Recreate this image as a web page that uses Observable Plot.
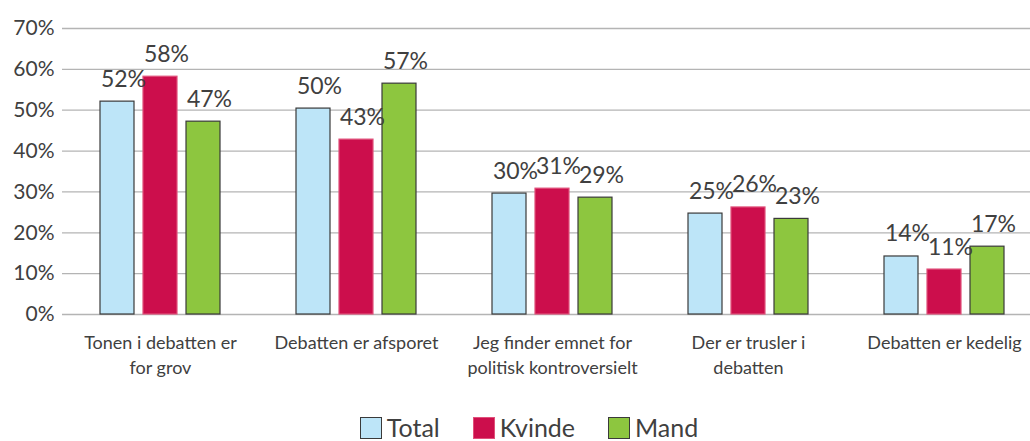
<!DOCTYPE html>
<html>
<head>
<meta charset="utf-8">
<script src="https://cdn.jsdelivr.net/npm/d3@7"></script>
<script src="https://cdn.jsdelivr.net/npm/@observablehq/plot@0.6"></script>
<style>
  body { margin: 0; background: #fff; font-family: Lato, "Open Sans", sans-serif; overflow: hidden; }
  #chart svg { display: block; }
  .legend { display: flex; justify-content: center; align-items: flex-start; padding-left: 28px; margin-top: 15px; font-weight: 400; font-size: 25px; line-height: 25px; color: #404040; }
  .legend .item { display: flex; align-items: flex-start; margin-right: 33px; }
  .legend .item:last-child { margin-right: 0; }
  .legend .sw { width: 22px; height: 22px; box-sizing: border-box; margin-right: 5px; margin-top: 2px; }
</style>
</head>
<body>
<div id="chart"></div>
<div class="legend" id="legend"></div>
<script>
const categories = [
  "Tonen i debatten er for grov",
  "Debatten er afsporet",
  "Jeg finder emnet for politisk kontroversielt",
  "Der er trusler i debatten",
  "Debatten er kedelig"
];
const categoryLabels = [
  "Tonen i debatten er\nfor grov",
  "Debatten er afsporet",
  "Jeg finder emnet for\npolitisk kontroversielt",
  "Der er trusler i\ndebatten",
  "Debatten er kedelig"
];
const series = ["Total", "Kvinde", "Mand"];
const totalValues  = [52.1, 50.4, 29.6, 24.7, 14.2];
const kvindeValues = [58.2, 42.8, 30.8, 26.2, 11.0];
const mandValues   = [47.2, 56.5, 28.6, 23.4, 16.6];
const yTicks = [0, 10, 20, 30, 40, 50, 60, 70];

const colors = ["#bde5f8", "#cc0e4c", "#8dc63f"];
const strokes = ["#3a3a3a", "#e0507a", "#3a3a3a"];

const seriesValues = [totalValues, kvindeValues, mandValues];
const data = [];
categories.forEach((c, i) => series.forEach((s, j) => data.push({category: c, series: s, value: seriesValues[j][i]})));
const labelOf = new Map(categories.map((c, i) => [c, categoryLabels[i]]));

const font = "Lato, 'Open Sans', sans-serif";
const plot = Plot.plot({
  width: 1030,
  height: 400,
  marginTop: 28,
  marginBottom: 86,
  marginLeft: 62,
  marginRight: -12,
  style: {fontFamily: font, color: "#404040", background: "#fff"},
  fx: {domain: categories, padding: 0, label: null, axis: null},
  x: {domain: series, paddingInner: 0.22, paddingOuter: 0.862, axis: null},
  y: {domain: [0, 70], label: null},
  color: {domain: series, range: colors},
  marks: [
    Plot.ruleY(yTicks, {stroke: "#b4b4b4", strokeWidth: 1.3}),
    Plot.barY(data, {fx: "category", x: "series", y: "value", fill: "series",
      stroke: d => strokes[series.indexOf(d.series)], strokeWidth: 1.2}),
    Plot.text(data, {fx: "category", x: "series", y: "value", text: d => Math.round(d.value) + "%",
      lineAnchor: "bottom", dy: -15, dx: 6, fontSize: 23, fontWeight: 400, fill: "#404040"}),
    Plot.axisY({ticks: yTicks, tickFormat: d => d + "%", tickSize: 0, tickPadding: 8, fontSize: 21, fontWeight: 400, fill: "#404040", label: null}),
    Plot.axisFx({anchor: "bottom", tickFormat: d => labelOf.get(d), tickSize: 0, tickPadding: 17, fontSize: 18, fontWeight: 400, lineHeight: 1.39, fill: "#404040", label: null, lineAnchor: "top"})
  ]
});
document.getElementById("chart").append(plot);

const legend = document.getElementById("legend");
series.forEach((s, j) => {
  const item = document.createElement("div");
  item.className = "item";
  const sw = document.createElement("div");
  sw.className = "sw";
  sw.style.background = colors[j];
  sw.style.border = "1.5px solid " + strokes[j];
  const t = document.createElement("span");
  t.textContent = s;
  item.append(sw, t);
  legend.append(item);
});
</script>
</body>
</html>
